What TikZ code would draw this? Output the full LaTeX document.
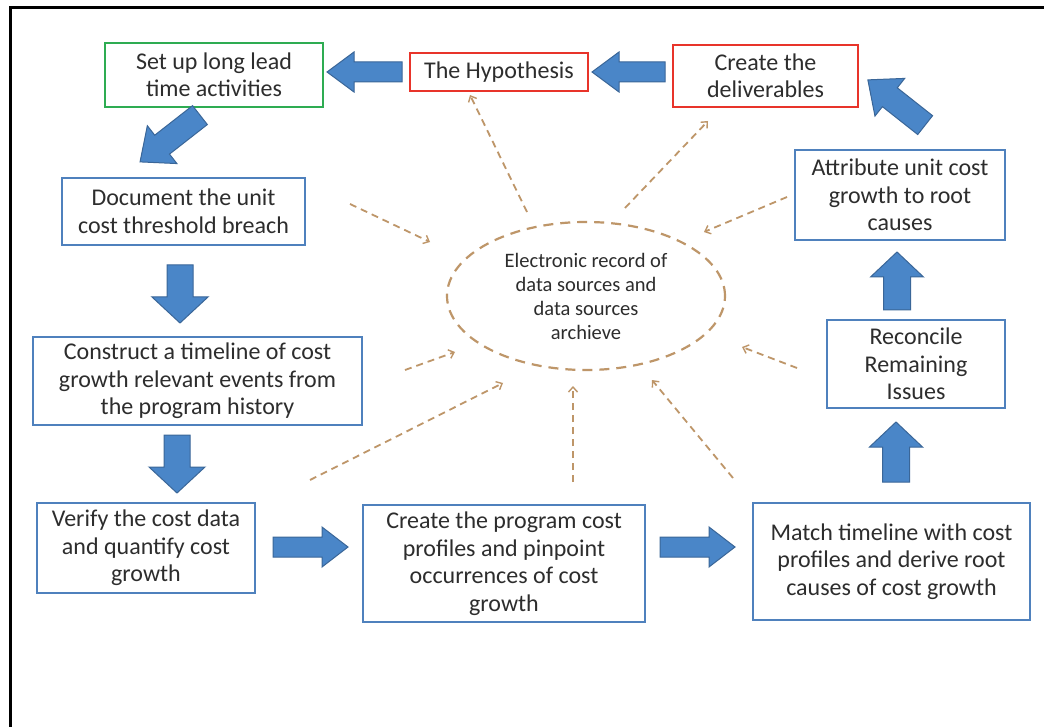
\documentclass[tikz,border=0pt]{standalone}
\usepackage{fontspec}
\setmainfont{Carlito}
\usetikzlibrary{arrows.meta,shapes.geometric}
\definecolor{boxblue}{RGB}{79,129,189}
\definecolor{boxred}{RGB}{232,52,42}
\definecolor{boxgreen}{RGB}{46,172,82}
\definecolor{arrfill}{RGB}{74,134,200}
\definecolor{arredge}{RGB}{58,102,152}
\definecolor{dashcol}{RGB}{190,150,105}
\definecolor{txt}{RGB}{45,45,45}
\tikzset{
  box/.style={draw=boxblue, line width=2.4pt, fill=white, text=txt, align=center,
    font=\fontsize{24}{27.5}\selectfont, inner sep=0pt},
  redbox/.style={box, draw=boxred},
  greenbox/.style={box, draw=boxgreen},
  sz/.style 2 args={minimum width=#1pt, minimum height=#2pt},
  barrowstyle/.style={fill=arrfill, draw=arredge, line width=1pt, line join=miter},
  dasharrow/.style={draw=dashcol, line width=1.8pt, dash pattern=on 7pt off 5pt,
    -{Straight Barb[length=5pt,width=9pt,line width=1.4pt]}},
  pics/barrow/.style args={#1/#2/#3/#4}{code={
    \pgfmathsetmacro\hl{#1/2}
    \pgfmathsetmacro\hb{#1/2-#4}
    \filldraw[barrowstyle] (-\hl,-#2/2) -- (\hb,-#2/2) -- (\hb,-#3/2) -- (\hl,0)
      -- (\hb,#3/2) -- (\hb,#2/2) -- (-\hl,#2/2) -- cycle;
  }}
}
\begin{document}
\begin{tikzpicture}[x=1pt,y=-1pt]
\useasboundingbox (0,0) rectangle (1044,727);
\fill[white] (0,0) rectangle (1044,727);
% frame
\draw[line width=3pt, line cap=rect] (10,727) -- (10,8) -- (1044,8);

% boxes
\node[greenbox, sz={218}{64}] (setup) at (214,75) {Set up long lead\\time activities};
\node[redbox, sz={178}{38}] (hyp) at (499,72) {The Hypothesis};
\node[redbox, sz={185}{62}] (deliv) at (765.5,76) {Create the\\deliverables};
\node[box, sz={210}{90}] (attr) at (900,195) {Attribute unit cost\\growth to root\\causes};
\node[box, sz={178}{88}] (recon) at (916,364) {Reconcile\\Remaining\\Issues};
\node[box, sz={277}{117}] (match) at (891.5,561.5) {Match timeline with cost\\profiles and derive root\\causes of cost growth};
\node[box, sz={282}{117}] (create) at (504,563.5) {Create the program cost\\profiles and pinpoint\\occurrences of cost\\growth};
\node[box, sz={218}{90}] (verify) at (146,548) {Verify the cost data\\and quantify cost\\growth};
\node[box, sz={329}{88}] (construct) at (197.5,381) {Construct a timeline of cost\\growth relevant events from\\the program history};
\node[box, sz={243}{67}] (document) at (183.5,211.5) {Document the unit\\cost threshold breach};

% central ellipse
\node[ellipse, draw=dashcol, line width=2.2pt, dash pattern=on 10pt off 7pt,
  minimum width=278pt, minimum height=148pt, text=txt, align=center,
  font=\fontsize{20.5}{24}\selectfont, inner sep=0pt] (rec) at (586,296)
  {Electronic record of\\data sources and\\data sources\\archieve};

% block arrows
\pic[rotate=180] (a1) at (364.5,72) {barrow=75/20/40/27};
\pic[rotate=180] (a2) at (628.5,72) {barrow=73/20/40/27};
\pic[rotate=141.7] (a3) at (896.5,102.5) {barrow=73/24/48/28};
\pic[rotate=218] (a4) at (170,138.5) {barrow=76/24/48/28};
\pic[rotate=270] (a5) at (180,294) {barrow=58/26/56/26};
\pic[rotate=270] (a6) at (177,464) {barrow=58/26/56/26};
\pic[rotate=0] (a7) at (310.5,547) {barrow=75/20/40/26};
\pic[rotate=0] (a8) at (697.5,547) {barrow=75/20/40/26};
\pic[rotate=90] (a9) at (896,452) {barrow=60/27/53/25};
\pic[rotate=90] (a10) at (897,281) {barrow=58/27/53/25};

% dashed connectors
\coordinate (d1s) at (527,212); \coordinate (d1e) at (470,95);
\coordinate (d2s) at (625,208); \coordinate (d2e) at (708,121);
\coordinate (d3s) at (350,204); \coordinate (d3e) at (430,242);
\coordinate (d4s) at (787,197); \coordinate (d4e) at (704,232);
\coordinate (d5s) at (405,370); \coordinate (d5e) at (455,352);
\coordinate (d6s) at (797,368); \coordinate (d6e) at (742,347);
\coordinate (d7s) at (310,480); \coordinate (d7e) at (503,383);
\coordinate (d8s) at (573,482); \coordinate (d8e) at (573,386);
\coordinate (d9s) at (733,478); \coordinate (d9e) at (652,380);
\foreach \i in {1,...,9} {\draw[dasharrow] (d\i s) -- (d\i e);}
\end{tikzpicture}
\end{document}
